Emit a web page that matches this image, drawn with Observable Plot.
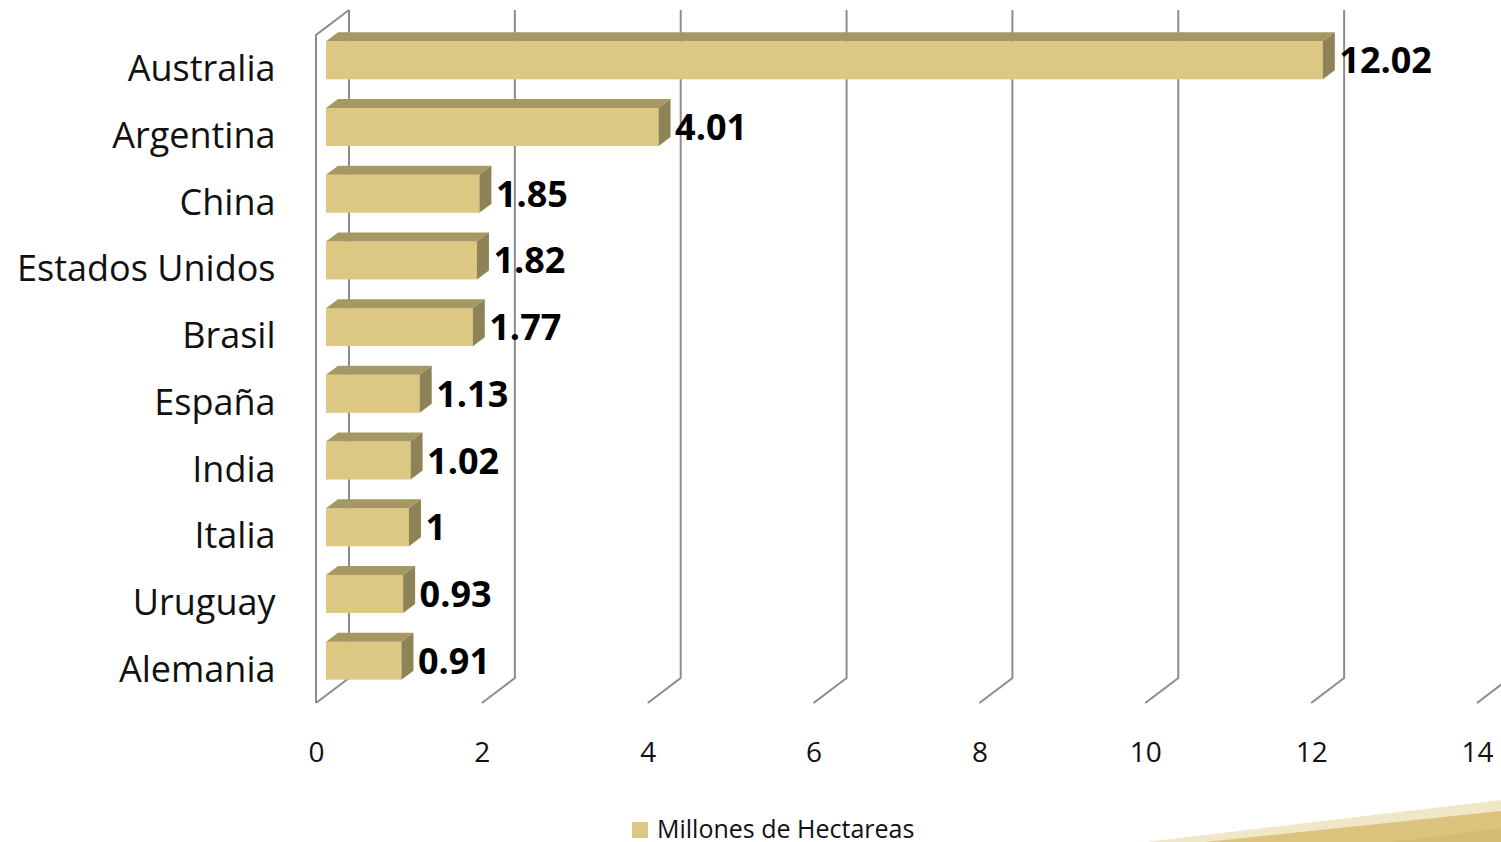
<!DOCTYPE html>
<html>
<head>
<meta charset="utf-8">
<script src="https://cdn.jsdelivr.net/npm/d3@7"></script>
<script src="https://cdn.jsdelivr.net/npm/@observablehq/plot@0.6"></script>
<style>
  html, body { margin: 0; padding: 0; background: #fff; width: 1501px; height: 842px; overflow: hidden; position: relative; }
  #chart svg { display: block; font-family: "Open Sans", sans-serif; }
  #legend { position: absolute; left: 632px; top: 816px; height: 25px; line-height: 25px; font-family: "Open Sans", sans-serif; font-size: 25px; color: #111; display: flex; align-items: center; white-space: nowrap; }
  #legend .sw { width: 16px; height: 16px; background: #DCC882; margin-right: 9px; margin-top: 2px; }
  #deco { position: absolute; left: 0; top: 0; pointer-events: none; }
</style>
</head>
<body>
<div id="chart"></div>
<svg id="deco" width="1501" height="842">
  <polygon points="1146,842 1501,800 1501,842" fill="#F0E6C8"/>
  <polygon points="1205,842 1501,811 1501,842" fill="#DCC47E"/>
  <polygon points="1390,842 1501,828 1501,842" fill="#D5BC74"/>
</svg>
<div id="legend"><div class="sw"></div><span>Millones de Hectareas</span></div>
<script>
const countries = ["Australia", "Argentina", "China", "Estados Unidos", "Brasil", "España", "India", "Italia", "Uruguay", "Alemania"];
const hectares = [12.02, 4.01, 1.85, 1.82, 1.77, 1.13, 1.02, 1, 0.93, 0.91];
const tickValues = [0, 2, 4, 6, 8, 10, 12, 14];

const data = countries.map((c, i) => ({country: c, value: hectares[i]}));

const FRONT = "#DCC882", TOP = "#A69863", SIDE = "#8E8257", GRID = "#8C8C8C";
const DEPTH_X = 33, DEPTH_Y = 25;      // depth of the 3D wall
const BAR_OFF = 10, BAR_DX = 12, BAR_DY = 9, BAR_H = 38;

// Gridlines + walls (3D floor diagonals) drawn with the x scale
function gridMark(index, scales, values, dimensions) {
  const x = scales.x;
  const top = 10, bottom = 678;
  const g = d3.create("svg:g").attr("fill", "none").attr("stroke", GRID).attr("stroke-width", 2);
  for (const t of tickValues) {
    const xf = x(t), xb = xf + DEPTH_X;
    g.append("path").attr("d", `M${xb},${top}L${xb},${bottom}L${xf},${bottom + DEPTH_Y}`);
  }
  const x0 = x(tickValues[0]);
  g.append("path").attr("d", `M${x0},${bottom + DEPTH_Y}L${x0},${top + DEPTH_Y}L${x0 + DEPTH_X},${top}`);
  return g.node();
}

// Top and side faces of each bar, through the x and y scales
function facesMark(index, scales, values, dimensions) {
  const x = scales.x, y = scales.y;
  const bw = y.bandwidth ? y.bandwidth() : 66.7;
  const g = d3.create("svg:g");
  for (const d of data) {
    const cy = y(d.country) + bw / 2;
    const yt = cy - BAR_H / 2, yb = cy + BAR_H / 2;
    const xl = x(0) + BAR_OFF, xr = x(d.value) + BAR_OFF;
    g.append("path").attr("fill", TOP)
      .attr("d", `M${xl},${yt}L${xr},${yt}L${xr + BAR_DX},${yt - BAR_DY}L${xl + BAR_DX},${yt - BAR_DY}Z`);
    g.append("path").attr("fill", SIDE)
      .attr("d", `M${xr},${yt}L${xr + BAR_DX},${yt - BAR_DY}L${xr + BAR_DX},${yb - BAR_DY}L${xr},${yb}Z`);
  }
  return g.node();
}

const chart = Plot.plot({
  width: 1501,
  height: 812,
  marginLeft: 316,
  marginRight: 24,
  marginTop: 27,
  marginBottom: 118,
  style: {fontFamily: "'Open Sans', sans-serif", background: "transparent", overflow: "visible"},
  x: {domain: [0, 14], axis: null},
  y: {domain: countries, padding: 0, round: false, axis: null},
  marks: [
    gridMark,
    Plot.barX(data, {x1: 0, x2: "value", y: "country", fill: FRONT, dx: BAR_OFF, insetTop: 14.35, insetBottom: 14.35}),
    facesMark,
    Plot.text(data, {x: "value", y: "country", text: d => String(d.value), textAnchor: "start", lineAnchor: "middle", dx: BAR_OFF + BAR_DX + 4, dy: 1, fontSize: 36, fontWeight: "bold", fill: "#000"}),
    Plot.text(countries, {y: d => d, text: d => d, frameAnchor: "left", textAnchor: "end", lineAnchor: "middle", dx: -41, dy: 9, fontSize: 36, fill: "#111"}),
    Plot.text(tickValues, {x: d => d, text: d => String(d), frameAnchor: "bottom", lineAnchor: "middle", dy: 59, fontSize: 28, fill: "#111"})
  ]
});
document.getElementById("chart").appendChild(chart);
</script>
</body>
</html>
